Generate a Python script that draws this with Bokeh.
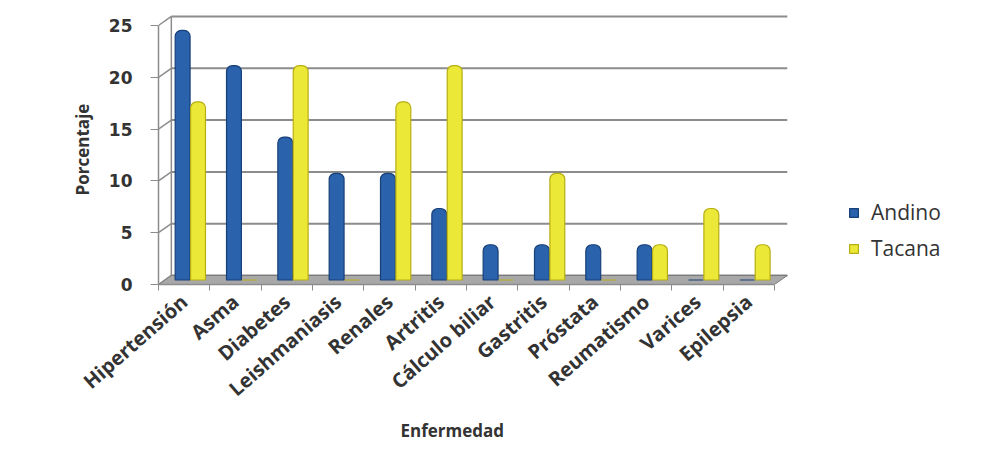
import math
from bokeh.plotting import figure
from bokeh.models import Range1d, FixedTicker, Legend, LegendItem, Title
from bokeh.embed import file_html
from bokeh.resources import INLINE

# ---- data ----
categories = ["Hipertensión", "Asma", "Diabetes", "Leishmaniasis", "Renales", "Artritis",
              "Cálculo biliar", "Gastritis", "Próstata", "Reumatismo", "Varices", "Epilepsia"]
andino = [24.1, 20.7, 13.8, 10.3, 10.3, 6.9, 3.4, 3.4, 3.4, 3.4, 0.0, 0.0]
tacana = [17.2, 0.0, 20.7, 0.0, 17.2, 20.7, 0.0, 10.3, 0.0, 3.4, 6.9, 3.4]
y_ticks = [0, 5, 10, 15, 20, 25]
series_names = ["Andino", "Tacana"]

# ---- geometry ----
W, H = 985, 455
mb_left, mb_right, mb_top, mb_bottom = 158, 10, 14, 171
px_cat = 51.33
px_unit = 10.36
frame_w = W - mb_left - mb_right
frame_h = H - mb_top - mb_bottom
x0 = -0.5
x_end = x0 + frame_w / px_cat
y_end = frame_h / px_unit
n = len(categories)
dx, dy = 0.25, 0.87          # pseudo-3D depth offset (data units)

blue, blue_edge = "#2a62ab", "#173f78"
yellow, yellow_edge = "#ece838", "#b7ae12"
grid_col = "#8c8c8c"
txt_col = "#333333"

p = figure(width=W, height=H, x_range=Range1d(x0, x_end), y_range=Range1d(0, y_end),
           output_backend="svg", toolbar_location=None,
           min_border_left=mb_left, min_border_right=mb_right,
           min_border_top=mb_top, min_border_bottom=mb_bottom)
p.outline_line_color = None
p.xgrid.visible = False
p.ygrid.visible = False
p.background_fill_color = "white"
p.border_fill_color = "white"

# back wall grid, left wall, floor
left_back = x0 + dx
right_back = x0 + n + dx
p.segment(x0=[left_back] * len(y_ticks), y0=[v + dy for v in y_ticks],
          x1=[right_back] * len(y_ticks), y1=[v + dy for v in y_ticks],
          line_color=grid_col, line_width=2)
p.segment(x0=[x0] * len(y_ticks), y0=y_ticks,
          x1=[left_back] * len(y_ticks), y1=[v + dy for v in y_ticks],
          line_color=grid_col, line_width=1.5)
p.segment(x0=[left_back], y0=[dy], x1=[left_back], y1=[y_ticks[-1] + dy],
          line_color=grid_col, line_width=1.5)
p.patch(x=[x0, x0 + n, x0 + n + dx, x0 + dx], y=[0, 0, dy, dy],
        fill_color="#a8a8a8", line_color="#7a7a7a", line_width=1)

# bars
xs = list(range(n))
base = dy / 2
r_a = p.vbar(x=[i - 0.03 for i in xs], width=0.29, bottom=base,
             top=[v + base if v > 0 else base for v in andino],
             fill_color=blue, line_color=blue_edge, line_width=1.2,
             border_radius=(6, 6, 0, 0))
r_t = p.vbar(x=[i + 0.27 for i in xs], width=0.29, bottom=base,
             top=[v + base if v > 0 else base for v in tacana],
             fill_color=yellow, line_color=yellow_edge, line_width=1.2,
             border_radius=(6, 6, 0, 0))

# y axis
ya = p.yaxis[0]
ya.ticker = FixedTicker(ticks=y_ticks)
ya.bounds = (0, y_ticks[-1])
ya.axis_line_color = grid_col
ya.axis_line_width = 1.5
ya.major_tick_line_color = grid_col
ya.major_tick_out = 8
ya.major_tick_in = 0
ya.minor_tick_line_color = None
ya.major_label_standoff = 18
ya.major_label_text_font = "DejaVu Sans"
ya.major_label_text_font_style = "bold"
ya.major_label_text_font_size = "17px"
ya.major_label_text_color = txt_col
ya.axis_label = "Porcentaje"
ya.axis_label_text_font = "Open Sans"
ya.axis_label_text_font_style = "bold"
ya.axis_label_text_font_size = "17px"
ya.axis_label_text_color = txt_col
ya.axis_label_standoff = 12

# x axis
xa = p.xaxis[0]
xa.ticker = FixedTicker(ticks=xs, minor_ticks=[x0 + k for k in range(n + 1)])
xa.major_label_overrides = {i: c for i, c in zip(xs, categories)}
xa.major_label_orientation = 0.72
xa.bounds = (x0, x0 + n)
xa.axis_line_color = grid_col
xa.axis_line_width = 1.5
xa.major_tick_line_color = None
xa.major_tick_out = 0
xa.major_tick_in = 0
xa.minor_tick_line_color = grid_col
xa.minor_tick_out = 6
xa.minor_tick_in = 0
xa.major_label_standoff = 8
xa.major_label_text_font = "Open Sans"
xa.major_label_text_font_style = "bold"
xa.major_label_text_font_size = "20px"
xa.major_label_text_color = txt_col

# x axis title
title_below = Title(text="Enfermedad", align="left", offset=400 - mb_left,
                    text_font="Open Sans", text_font_style="bold",
                    text_font_size="17px", text_color=txt_col, standoff=5)
p.add_layout(title_below, "below")

legend = Legend(items=[LegendItem(label=series_names[0], renderers=[r_a]),
                       LegendItem(label=series_names[1], renderers=[r_t])],
                location=(690, 22))
legend.border_line_color = None
legend.background_fill_alpha = 0
legend.padding = 0
legend.margin = 0
legend.spacing = 8
legend.glyph_width = 11
legend.glyph_height = 11
legend.label_standoff = 12
legend.label_text_font = "Open Sans"
legend.label_text_font_size = "21px"
legend.label_text_color = txt_col
p.add_layout(legend)

open("out.html", "w").write(file_html(p, INLINE))
